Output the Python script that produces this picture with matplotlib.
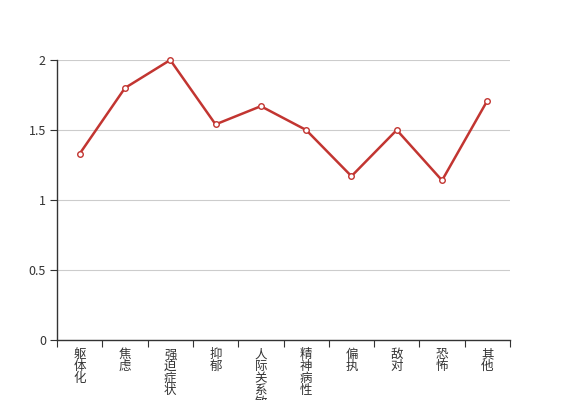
import matplotlib.pyplot as plt
import numpy as np

plt.rcParams['font.family'] = ['Noto Sans CJK SC', 'DejaVu Sans']

# SCL-90 style factor scores
categories = ["躯体化", "焦虑", "强迫症状", "抑郁", "人际关系敏感",
              "精神病性", "偏执", "敌对", "恐怖", "其他"]
scores = [1.33, 1.8, 2.0, 1.54, 1.67, 1.5, 1.17, 1.5, 1.14, 1.71]
y_ticks = [0, 0.5, 1, 1.5, 2]
y_tick_labels = ["0", "0.5", "1", "1.5", "2"]

fig = plt.figure(figsize=(5.67, 4.0), dpi=100)
ax = fig.add_axes([57 / 567, 0.15, (510 - 57) / 567, 0.70])

x = np.arange(len(categories))
ax.plot(x, scores, color='#c23531', linewidth=1.8, marker='o', markersize=4,
        markerfacecolor='white', markeredgecolor='#c23531', markeredgewidth=1,
        zorder=3, clip_on=False)

ax.set_xlim(-0.5, len(categories) - 0.5)
ax.set_ylim(0, 2)

# ticks on category boundaries, labels centred under each category
ax.set_xticks(np.arange(len(categories) + 1) - 0.5)
ax.set_xticklabels([])
ax.set_xticks(x, minor=True)
ax.set_xticklabels(["\n".join(c) for c in categories], minor=True,
                   fontsize=9, color='#333333', linespacing=0.88, va='top')
ax.tick_params(axis='x', which='minor', length=0, pad=6)
ax.tick_params(axis='x', which='major', length=5, color='#333333')

ax.set_yticks(y_ticks)
ax.set_yticklabels(y_tick_labels, fontsize=9, color='#333333')
ax.tick_params(axis='y', length=5, color='#333333', pad=3)

ax.grid(axis='y', color='#cccccc', linewidth=0.8)
ax.set_axisbelow(True)
for s in ['top', 'right']:
    ax.spines[s].set_visible(False)
for s in ['left', 'bottom']:
    ax.spines[s].set_color('#333333')
    ax.spines[s].set_linewidth(1)

fig.savefig('out.png', dpi=100)
